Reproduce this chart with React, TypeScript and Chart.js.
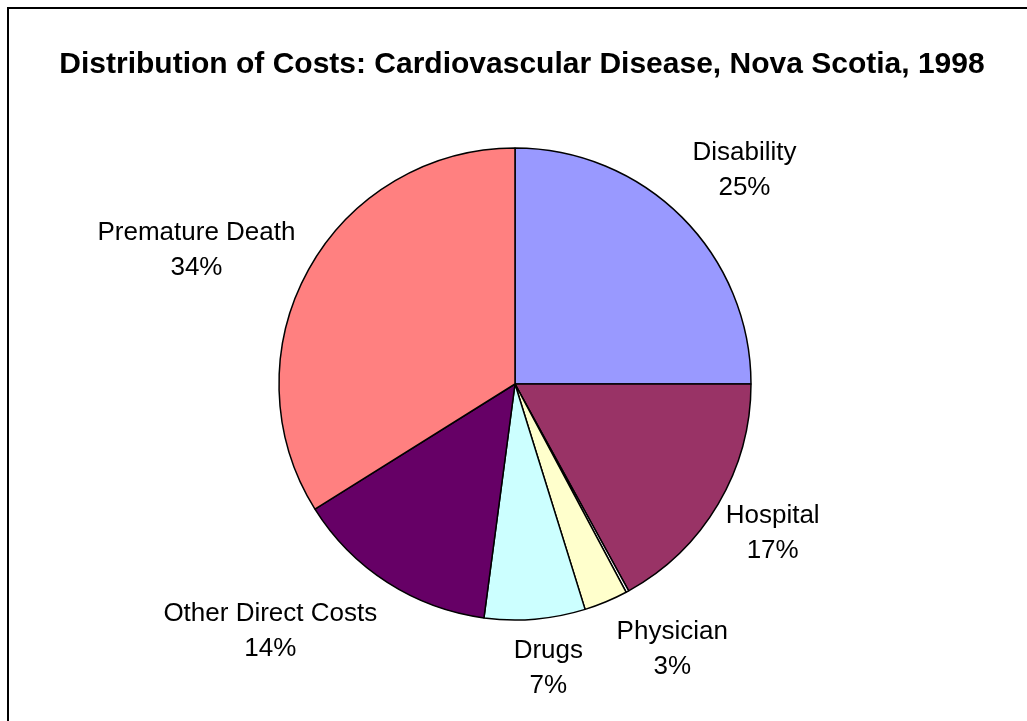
import React, { useEffect, useRef } from "react";
import { Chart, registerables } from "chart.js";

Chart.register(...registerables);

const chartTitle = "Distribution of Costs: Cardiovascular Disease, Nova Scotia, 1998";
const categories = ["Disability", "Hospital", "", "Physician", "Drugs", "Other Direct Costs", "Premature Death"];
const costShares = [25, 17, 0.2, 3, 6.9, 14, 33.9];
const sliceColors = ["#9999FF", "#993366", "#FFFFFF", "#FFFFCC", "#CCFFFF", "#660066", "#FF8080"];

// label styling: nudges applied after the radial placement (pixels)
const labelNudges: [number, number][] = [
  [6, -10], [-10, -1], [0, 0], [34, -5], [8, -8], [-44, 1], [-1, 5],
];

const FONT = '"Liberation Sans", Arial, sans-serif';

const decorPlugin = {
  id: "decor",
  beforeDraw(chart: any) {
    const ctx = chart.ctx;
    ctx.save();
    ctx.fillStyle = "#FFFFFF";
    ctx.fillRect(0, 0, chart.width, chart.height);
    ctx.strokeStyle = "#000000";
    ctx.lineWidth = 2;
    ctx.strokeRect(8, 8, 2000, 2000);
    ctx.fillStyle = "#000000";
    ctx.font = `bold 30px ${FONT}`;
    ctx.textAlign = "center";
    ctx.textBaseline = "alphabetic";
    ctx.fillText(chartTitle, 522, 73);
    ctx.restore();
  },
  afterDraw(chart: any) {
    const ctx = chart.ctx;
    const meta = chart.getDatasetMeta(0);
    const data = chart.data.datasets[0].data as number[];
    const total = data.reduce((a, b) => a + b, 0);
    ctx.save();
    ctx.fillStyle = "#000000";
    ctx.font = `26px ${FONT}`;
    ctx.textAlign = "center";
    ctx.textBaseline = "alphabetic";
    const capH = 18.6;
    const lineGap = 35;
    const blockH = capH + lineGap;
    meta.data.forEach((arc: any, i: number) => {
      const name = categories[i];
      if (!name) return;
      const pct = Math.round((data[i] / total) * 100) + "%";
      const mid = (arc.startAngle + arc.endAngle) / 2;
      const dx = Math.cos(mid);
      const dy = Math.sin(mid);
      const R = arc.outerRadius + 28;
      const w = Math.max(ctx.measureText(name).width, ctx.measureText(pct).width);
      let cx = arc.x + dx * R + dx * (w / 2);
      let cy = arc.y + dy * R + dy * (blockH / 2);
      cx += labelNudges[i][0];
      cy += labelNudges[i][1];
      const b1 = cy - blockH / 2 + capH;
      ctx.fillText(name, cx, b1);
      ctx.fillText(pct, cx, b1 + lineGap);
    });
    ctx.restore();
  },
};

export default function App() {
  const canvasRef = useRef<HTMLCanvasElement | null>(null);

  useEffect(() => {
    if (!canvasRef.current) return;
    const chart = new Chart(canvasRef.current, {
      type: "pie",
      data: {
        labels: categories,
        datasets: [
          {
            data: costShares,
            backgroundColor: sliceColors,
            borderColor: "#000000",
            borderWidth: 1.5,
            hoverOffset: 0,
          },
        ],
      },
      options: {
        responsive: false,
        animation: false,
        devicePixelRatio: 1,
        radius: 236,
        layout: { padding: { left: 279, right: 276, top: 148, bottom: 101 } },
        plugins: {
          legend: { display: false },
          tooltip: { enabled: false },
          title: { display: false },
        },
      } as any,
      plugins: [decorPlugin],
    });
    return () => chart.destroy();
  }, []);

  return (
    <div style={{ position: "fixed", left: 0, top: 0, width: 1027, height: 721, background: "#fff" }}>
      <canvas ref={canvasRef} width={1027} height={721} style={{ width: 1027, height: 721, display: "block" }} />
    </div>
  );
}
